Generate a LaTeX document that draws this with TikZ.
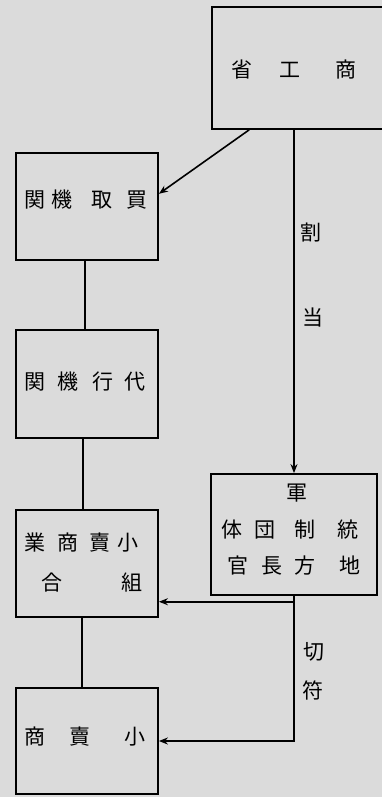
\documentclass[tikz,border=0pt]{standalone}
\usepackage{fontspec}
\newfontfamily\jp{Noto Sans CJK JP}
\usetikzlibrary{arrows.meta,calc}
\begin{document}
\begin{tikzpicture}[x=1pt,y=1pt,
  box/.style={draw=black,line width=1.8pt,inner sep=0pt,minimum width=142pt,minimum height=107pt},
  txt/.style={font=\jp\fontsize{21pt}{23pt}\selectfont,inner sep=0pt,text=black},
  ln/.style={line width=1.6pt,draw=black},
  arr/.style={ln,-{Stealth[length=9pt,width=7pt]}}]
\path[use as bounding box,fill=black!14] (0,0) rectangle (382,-797);
\clip (0,0) rectangle (382,-797);
% boxes
\node[box,minimum width=183pt,minimum height=122pt] (sho) at (303.5,-68) {};
\node[box] (kaitori) at (87,-206.5) {};
\node[box,minimum height=108pt] (dairi) at (87,-384) {};
\node[box] (kumiai) at (87,-563.5) {};
\node[box,minimum height=106pt] (kouri) at (87,-741) {};
\node[box,minimum width=166pt,minimum height=121pt] (tosei) at (294,-534.5) {};
% texts
\node[txt] (t0) at (294,-70) {省\hspace{27pt}工\hspace{35pt}商};
\node[txt] (t1) at (86,-200) {関\hspace{6pt}機\hspace{19pt}取\hspace{14pt}買};
\node[txt] (t2) at (85,-382) {関\hspace{12pt}機\hspace{14pt}行\hspace{11pt}代};
\node[txt] (t3a) at (81.5,-543) {業\hspace{12pt}商\hspace{11pt}賣\hspace{7pt}小};
\node[txt] (t3b) at (52,-583) {合};
\node[txt] (t3c) at (132,-583) {組};
\node[txt] (t4) at (85,-737) {商\hspace{24pt}賣\hspace{34pt}小};
\node[txt] (t5a) at (297,-493) {軍};
\node[txt] (t5b) at (290,-530) {体\hspace{12pt}団\hspace{19pt}制\hspace{22pt}統};
\node[txt] (t5c) at (294,-566) {官\hspace{13pt}長\hspace{12pt}方\hspace{24pt}地};
\node[txt] (l1) at (311,-233) {割};
\node[txt] (l2) at (313,-318) {当};
\node[txt] (l3) at (314,-652) {切};
\node[txt] (l4) at (313,-690) {符};
% connectors
\draw[arr] ($(sho.south west)+(38,0)$) -- (kaitori.10);
\draw[arr] (tosei.north |- sho.south) -- (tosei.north);
\draw[ln] ($(kaitori.south)+(-2,0)$) -- ($(dairi.north)+(-2,0)$);
\draw[ln] ($(dairi.south)+(-4,0)$) -- ($(kumiai.north)+(-4,0)$);
\draw[ln] ($(kumiai.south)+(-5,0)$) -- ($(kouri.north)+(-5,0)$);
\draw[arr] (tosei.south) |- (kouri.east);
\draw[arr] (tosei.south |- kumiai.-28) -- (kumiai.-28);
\end{tikzpicture}
\end{document}
